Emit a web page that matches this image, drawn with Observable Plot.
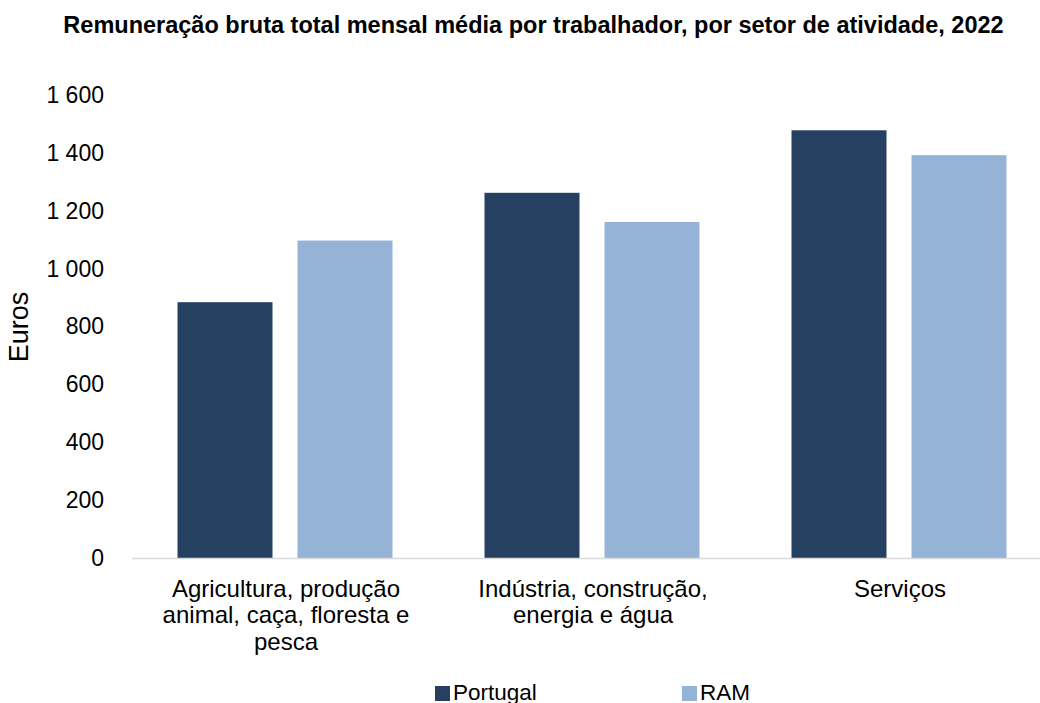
<!DOCTYPE html>
<html>
<head>
<meta charset="utf-8">
<script src="https://cdn.jsdelivr.net/npm/d3@7"></script>
<script src="https://cdn.jsdelivr.net/npm/@observablehq/plot@0.6"></script>
<style>
  html, body { margin: 0; padding: 0; background: #fff; overflow: hidden; width: 1040px; height: 703px; }
  body { font-family: "Liberation Sans", Arial, sans-serif; color: #000; }
  #title { box-sizing: border-box; height: 50px; padding-top: 12px; padding-left: 27px; text-align: center; font-weight: bold; font-size: 23.5px; line-height: 26px; white-space: nowrap; }
  #chart { height: 620px; overflow: hidden; width: 1040px; }
  #chart svg { max-width: none !important; }
  #legend { position: relative; height: 33px; font-size: 22.5px; }
  .item { position: absolute; top: 10px; display: flex; align-items: center; line-height: 26px; }
  .sw { width: 15px; height: 15px; margin-right: 3px; }
</style>
</head>
<body>
<div id="title">Remuneração bruta total mensal média por trabalhador, por setor de atividade, 2022</div>
<div id="chart"></div>
<div id="legend"></div>
<script>
const categories = ["Agricultura, produção animal, caça, floresta e pesca", "Indústria, construção, energia e água", "Serviços"];
const categoryLabels = ["Agricultura, produção\nanimal, caça, floresta e\npesca", "Indústria, construção,\nenergia e água", "Serviços"];
const series = ["Portugal", "RAM"];
const portugal = [884, 1262, 1478];
const ram = [1097, 1161, 1392];
const colors = ["#264062", "#95b3d7"];
const yTicks = [0, 200, 400, 600, 800, 1000, 1200, 1400, 1600];

const data = [];
categories.forEach((c, i) => {
  data.push({cat: c, series: "Portugal", value: portugal[i]});
  data.push({cat: c, series: "RAM", value: ram[i]});
});

const fmt = d => d >= 1000 ? `${Math.floor(d / 1000)} ${String(d % 1000).padStart(3, "0")}` : String(d);

const chart = Plot.plot({
  width: 1053,
  height: 620,
  marginLeft: 131.5,
  marginRight: 0,
  marginTop: 45,
  marginBottom: 112,
  style: {fontFamily: "'Liberation Sans', Arial, sans-serif", color: "#000", background: "transparent"},
  fx: {domain: categories, padding: 0, label: null, axis: null},
  x: {domain: series, paddingInner: 0.2083, paddingOuter: 0.3833, axis: null},
  y: {domain: [0, 1600], label: null},
  color: {domain: series, range: colors},
  marks: [
    Plot.axisY({ticks: yTicks, tickFormat: fmt, tickSize: 0, tickPadding: 28.5, fontSize: 23, label: null}),
    Plot.axisY({ticks: [], label: "Euros", labelArrow: "none", labelAnchor: "center", labelOffset: 124, fontSize: 27}),
    Plot.axisFx({anchor: "bottom", tickSize: 0, tickPadding: 19, fontSize: 24, lineHeight: 1.12, label: null,
      tickFormat: d => categoryLabels[categories.indexOf(d)]}),
    Plot.barY(data, {fx: "cat", x: "series", y: "value", fill: "series"}),
    Plot.ruleY([0], {stroke: "#d9d9d9", strokeWidth: 1.5})
  ]
});
document.getElementById("chart").appendChild(chart);

const legend = document.getElementById("legend");
const legendX = [435, 682];
series.forEach((s, i) => {
  const it = document.createElement("div");
  it.className = "item";
  it.style.left = legendX[i] + "px";
  const sw = document.createElement("span");
  sw.className = "sw";
  sw.style.background = colors[i];
  const t = document.createElement("span");
  t.textContent = s;
  it.appendChild(sw);
  it.appendChild(t);
  legend.appendChild(it);
});
</script>
</body>
</html>
